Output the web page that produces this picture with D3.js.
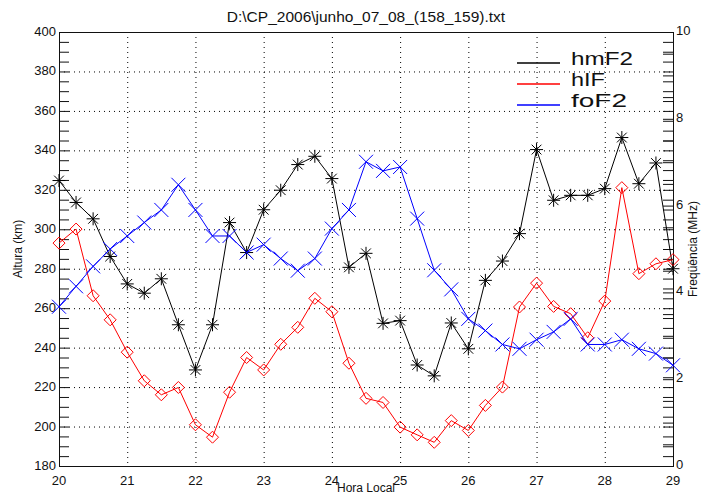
<!DOCTYPE html>
<html lang="en">
<head>
    <meta charset="UTF-8">
    <script src="https://d3js.org/d3.v7.min.js"></script>
    <title>junho_07_08</title>
    <style>
        body {
            margin: 0;
            background: #fff;
        }
        text {
            font-family: "Liberation Sans", Arial, sans-serif;
            fill: #111;
        }
        .grid line {
            stroke: #000;
            stroke-width: 1;
            stroke-dasharray: 1, 4;
        }
    </style>
</head>
<body>
    <script>
        // hora local, every 15 min
        const hours = [20, 20.25, 20.5, 20.75, 21, 21.25, 21.5, 21.75, 22, 22.25, 22.5, 22.75,
            23, 23.25, 23.5, 23.75, 24, 24.25, 24.5, 24.75, 25, 25.25, 25.5, 25.75,
            26, 26.25, 26.5, 26.75, 27, 27.25, 27.5, 27.75, 28, 28.25, 28.5, 28.75, 29];

        // altura (km)
        const hmF2 = [324.7, 313.6, 305.3, 286.2, 272.3, 267.6, 274.9, 251.6, 228.7, 251.6, 303.4, 288.2,
            309.9, 319.8, 332.8, 337.0, 325.7, 280.7, 287.8, 252.3, 253.7, 231.2, 225.7, 252.5,
            239.4, 274.1, 283.9, 297.8, 340.4, 314.7, 317.2, 317.2, 320.6, 346.5, 323.1, 333.6, 280];
        const hIF = [293, 300.1, 266.3, 254.1, 237.7, 223.2, 216.1, 219.8, 200.9, 194.6, 217.4, 235,
            228.7, 241.7, 250.3, 265, 258.2, 232.1, 214.3, 212.2, 199.7, 195.8, 192, 203,
            198, 210.7, 220, 260.6, 272.7, 260.9, 257.2, 245, 263.6, 321.1, 277.5, 282.5, 284.6];
        // frequencia (MHz)
        const foF2 = [3.67, 4.14, 4.6, 5.0, 5.3, 5.61, 5.9, 6.48, 5.9, 5.3, 5.3, 4.92,
            5.1, 4.78, 4.5, 4.78, 5.47, 5.9, 7.01, 6.8, 6.89, 5.7, 4.51, 4.07,
            3.39, 3.12, 2.8, 2.7, 2.91, 3.09, 3.39, 2.8, 2.8, 2.91, 2.7, 2.59, 2.32];

        const xTicks = [20, 21, 22, 23, 24, 25, 26, 27, 28, 29];
        const yTicks = [180, 200, 220, 240, 260, 280, 300, 320, 340, 360, 380, 400];
        const yMinor = d3.range(180, 401, 5);
        const fTicks = [0, 2, 4, 6, 8, 10];
        const fMinor = d3.range(0, 10.01, 0.5);

        const title = 'D:\\CP_2006\\junho_07_08_(158_159).txt';

        const W = 704, H = 496;
        const margin = { top: 32, right: 31, bottom: 30, left: 59 };
        const width = W - margin.left - margin.right;
        const height = H - margin.top - margin.bottom;

        const svg = d3.select('body').append('svg')
            .attr('width', W)
            .attr('height', H);

        const g = svg.append('g')
            .attr('transform', `translate(${margin.left},${margin.top})`);

        const x = d3.scaleLinear().domain([20, 29]).range([0, width]);
        const y = d3.scaleLinear().domain([180, 400]).range([height, 0]);
        const yf = d3.scaleLinear().domain([0, 10]).range([height, 0]);

        // dotted grid
        const grid = g.append('g').attr('class', 'grid');
        grid.selectAll('.gx').data(xTicks.slice(1, -1)).join('line')
            .attr('x1', (d) => x(d) + 0.5).attr('x2', (d) => x(d) + 0.5)
            .attr('y1', 0).attr('y2', height);
        grid.selectAll('.gy').data(yTicks.slice(1, -1)).join('line')
            .attr('class', 'gy')
            .attr('x1', 0).attr('x2', width)
            .attr('y1', (d) => y(d) + 0.5).attr('y2', (d) => y(d) + 0.5);

        // axes (ticks pointing inwards, like IDL)
        const tk = 10;
        const leftAxis = d3.axisRight(y).tickValues(yMinor).tickSize(tk).tickFormat('');
        const mirrorAxis = d3.axisLeft(y).tickValues(yMinor).tickSize(tk).tickFormat('');
        const rightAxis = d3.axisLeft(yf).tickValues(fMinor).tickSize(tk).tickFormat('');

        [g.append('g').call(leftAxis),
            g.append('g').attr('transform', `translate(${width},0)`).call(mirrorAxis),
            g.append('g').attr('transform', `translate(${width},0)`).call(rightAxis)
        ].forEach((a) => {
            a.select('.domain').remove();
            a.selectAll('line').attr('stroke', '#111');
        });

        // frame
        g.append('rect')
            .attr('x', 0.5).attr('y', 0.5)
            .attr('width', width).attr('height', height)
            .attr('fill', 'none').attr('stroke', '#111');

        // tick labels
        g.selectAll('.ly').data(yTicks).join('text')
            .attr('x', -3).attr('y', (d) => y(d) + 4)
            .attr('text-anchor', 'end').attr('font-size', 13)
            .text((d) => d);
        g.selectAll('.lf').data(fTicks).join('text')
            .attr('x', width + 3).attr('y', (d) => yf(d) + 3)
            .attr('font-size', 13)
            .text((d) => d);
        g.selectAll('.lx').data(xTicks).join('text')
            .attr('x', (d) => x(d)).attr('y', height + 19)
            .attr('text-anchor', 'middle').attr('font-size', 13)
            .text((d) => d);

        // axis titles
        svg.append('text')
            .attr('x', margin.left + width / 2).attr('y', 22)
            .attr('text-anchor', 'middle').attr('font-size', 15.5)
            .text(title);
        svg.append('text')
            .attr('x', margin.left + width / 2).attr('y', 492)
            .attr('text-anchor', 'middle').attr('font-size', 12)
            .text('Hora Local');
        svg.append('text')
            .attr('transform', `translate(22,${margin.top + height / 2}) rotate(-90)`)
            .attr('text-anchor', 'middle').attr('font-size', 12)
            .text('Altura (km)');
        svg.append('text')
            .attr('transform', `translate(697,${margin.top + height / 2}) rotate(-90)`)
            .attr('text-anchor', 'middle').attr('font-size', 12)
            .text('Freqüência (MHz)');

        // series
        const series = [
            { name: 'hmF2', values: hmF2, scale: y, color: '#000', sym: 'star' },
            { name: 'hIF', values: hIF, scale: y, color: '#ff0000', sym: 'diamond' },
            { name: 'foF2', values: foF2, scale: yf, color: '#0000ff', sym: 'cross' }
        ];

        const symPath = {
            star: (r) => `M${-r},0H${r}M0,${-r}V${r}M${-r * 0.75},${-r * 0.75}L${r * 0.75},${r * 0.75}M${-r * 0.75},${r * 0.75}L${r * 0.75},${-r * 0.75}`,
            diamond: (r) => `M0,${-r}L${r},0L0,${r}L${-r},0Z`,
            cross: (r) => `M${-r},${-r}L${r},${r}M${-r},${r}L${r},${-r}`
        };
        const symSize = { star: 6.5, diamond: 6, cross: 7 };

        const plot = g.append('g');
        series.forEach((s) => {
            const pts = hours.map((h, i) => [x(h), s.scale(s.values[i])]);
            plot.append('path')
                .attr('d', d3.line()(pts))
                .attr('fill', 'none')
                .attr('stroke', s.color)
                .attr('stroke-width', 1);
            plot.selectAll(null).data(pts).join('path')
                .attr('transform', (d) => `translate(${d[0]},${d[1]})`)
                .attr('d', symPath[s.sym](symSize[s.sym]))
                .attr('fill', 'none')
                .attr('stroke', s.color)
                .attr('stroke-width', 1);
        });

        // legend
        const legend = svg.append('g');
        series.forEach((s, i) => {
            const ly = 63 + i * 21;
            legend.append('line')
                .attr('x1', 517).attr('x2', 560)
                .attr('y1', ly).attr('y2', ly)
                .attr('stroke', s.color).attr('stroke-width', 1.5);
            legend.append('text')
                .attr('x', 571).attr('y', ly + 2)
                .attr('font-size', 19)
                .attr('textLength', [62, 34, 56][i])
                .attr('lengthAdjust', 'spacingAndGlyphs')
                .attr('fill', '#222')
                .text(s.name);
        });
    </script>
</body>
</html>
